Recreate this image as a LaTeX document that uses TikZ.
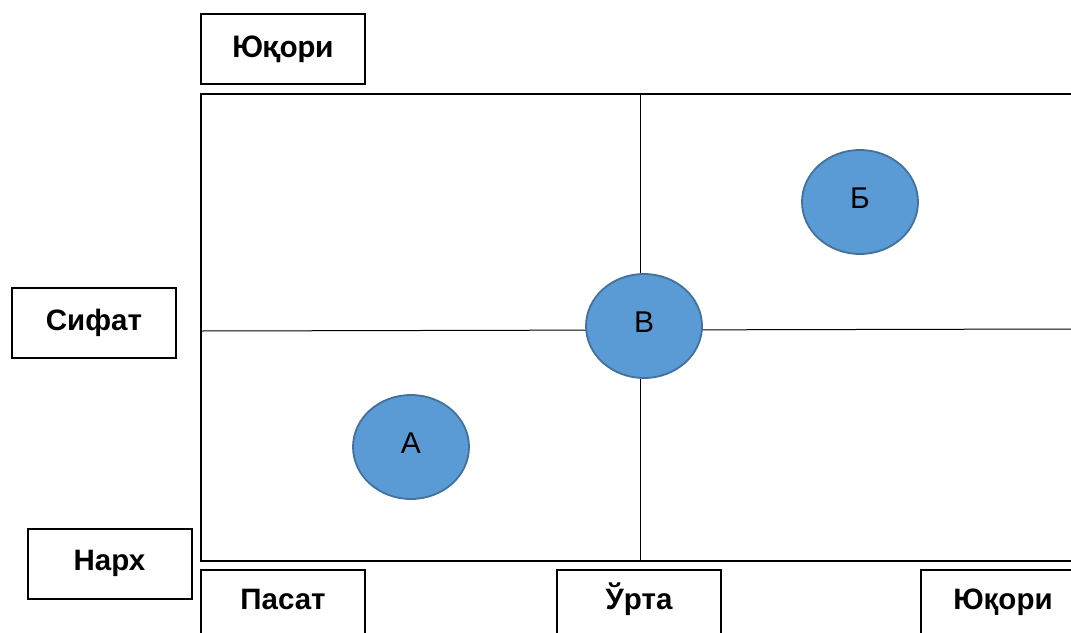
\documentclass[tikz,border=0pt]{standalone}
\usepackage{fontspec}
\usetikzlibrary{shapes.geometric}
\setmainfont{Liberation Sans}
\newfontfamily\calib{Carlito}
\definecolor{cfill}{HTML}{5B9BD5}
\definecolor{cdraw}{HTML}{41719C}
\newcommand{\upby}[2]{\raisebox{#1}[\height][\depth]{#2}}
\begin{document}
\begin{tikzpicture}[x=1pt,y=-1pt,
  lbl/.style={draw=black,line width=2pt,minimum width=164pt,minimum height=70pt,inner sep=0pt,font=\fontsize{29.5}{32}\selectfont\bfseries},
  botlbl/.style={lbl,text height=22pt,text depth=6pt},
  circ/.style={ellipse,draw=cdraw,line width=1.8pt,fill=cfill,minimum width=116pt,minimum height=104pt,inner sep=0pt,font=\fontsize{30}{32}\selectfont}]
\useasboundingbox (0,0) rectangle (1071,632);
\begin{scope}
\clip (0,0) rectangle (1071,632);
% main frame
\draw[line width=2pt] (1080,94) -- (201,94) -- (201,561) -- (1080,561);
\coordinate (vt) at (640,94);
\coordinate (vb) at (640,561);
\coordinate (hl) at (201,331);
\coordinate (hr) at (1071,329);
\draw[line width=1pt] (vt) -- (vb);
\draw[line width=1pt] (hl) -- (hr);
% labels
\node[lbl,font=\fontsize{33}{36}\selectfont\calib\bfseries] (top) at (283,49) {Юқори};
\node[lbl] (sifat) at (94,322.5) {Сифат};
\node[lbl] (narx) at (109.5,563.5) {Нарх};
\node[botlbl,anchor=north] (past) at (283,569) {\upby{4pt}{Пасат}};
\node[botlbl,anchor=north] (urta) at (639,569) {\upby{4pt}{Ўрта}};
\node[botlbl,anchor=north west] (yuq) at (920,569) {\upby{4pt}{Юқори}};
% circles
\node[circ] (B) at (860,202) {\upby{4pt}{Б}};
\node[circ] (V) at (644,326) {\upby{4pt}{В}};
\node[circ] (A) at (411,447) {\upby{4pt}{А}};
\end{scope}
\end{tikzpicture}
\end{document}
